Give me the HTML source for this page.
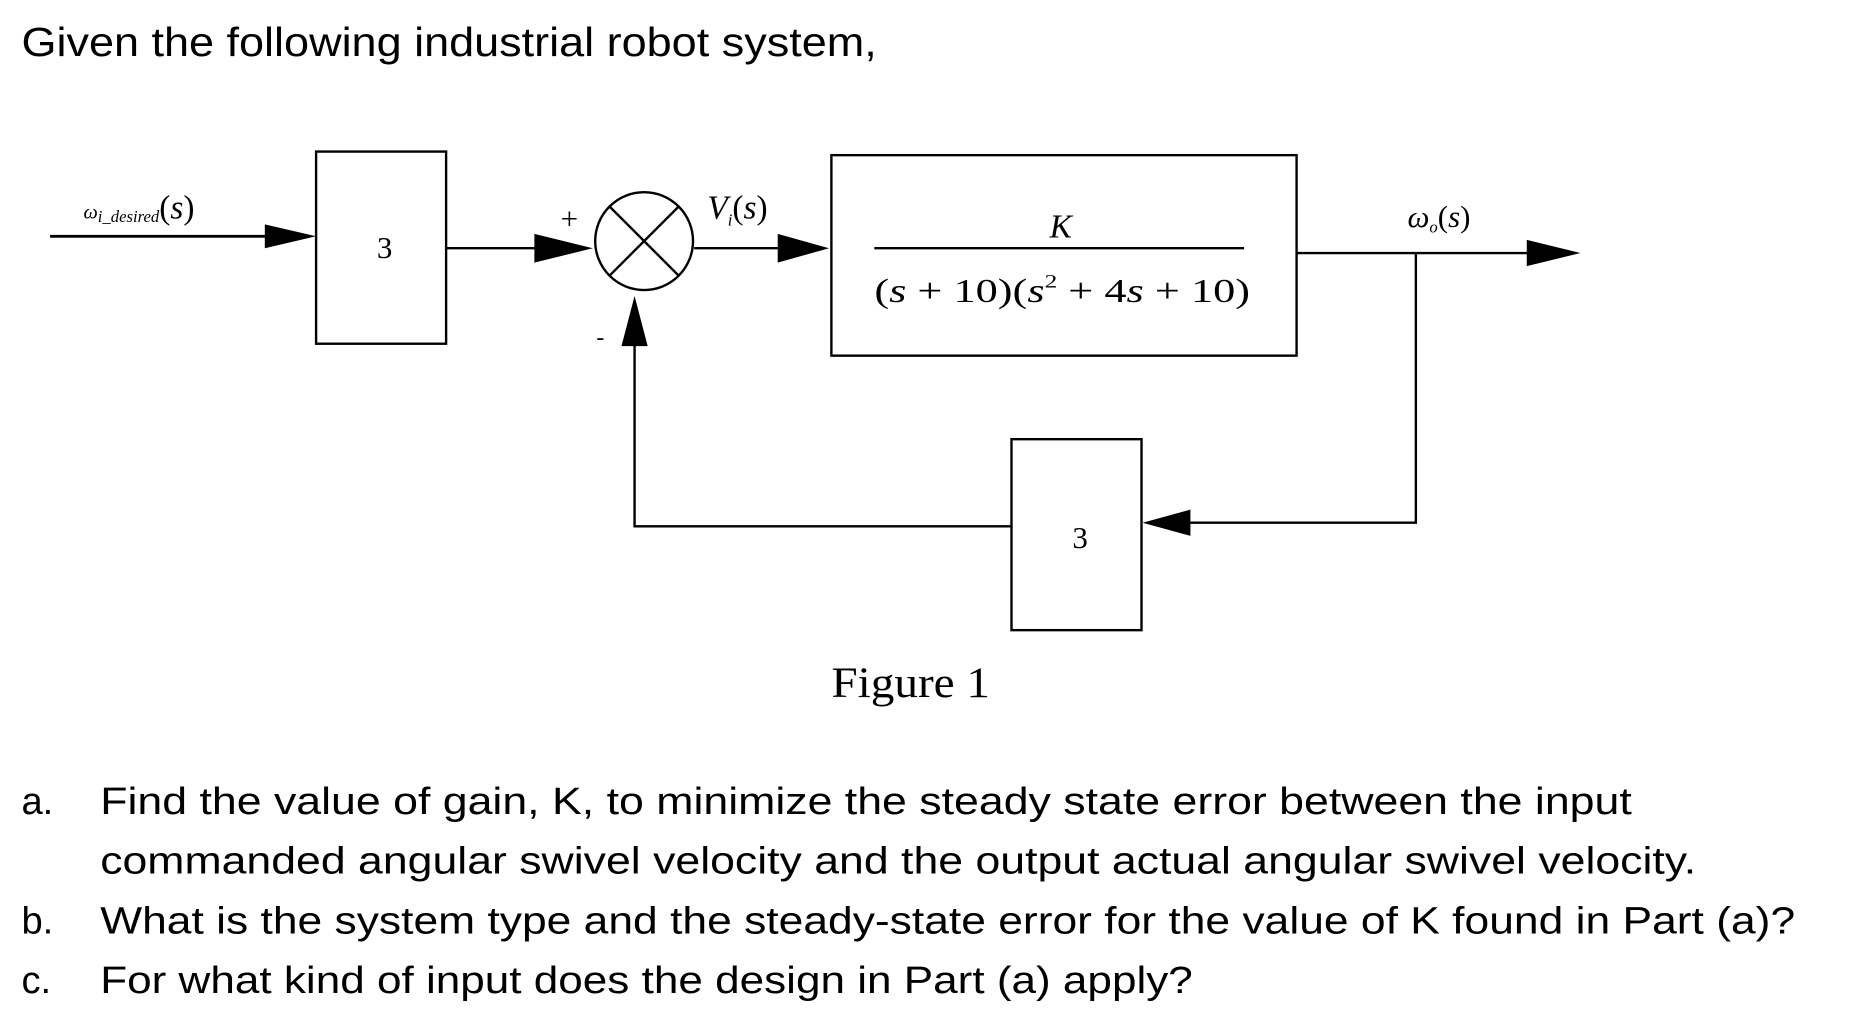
<!DOCTYPE html>
<html><head><meta charset="utf-8"><style>html,body{margin:0;padding:0;background:#fff;}svg{display:block;}</style></head>
<body>
<svg width="1856" height="1024" viewBox="0 0 1556 858" preserveAspectRatio="none" xmlns="http://www.w3.org/2000/svg">
<rect width="1556" height="858" fill="#fff"/>
<g font-family="Liberation Sans, sans-serif" fill="#000">
<text x="18" y="47" font-size="34" textLength="717" lengthAdjust="spacingAndGlyphs">Given the following industrial robot system,</text>
</g>
<g stroke="#000" fill="none" stroke-width="2">
<line x1="42" y1="198" x2="225" y2="198" stroke-width="2.5"/>
<rect x="265" y="127" width="109" height="161"/>
<line x1="374" y1="208" x2="450" y2="208"/>
<ellipse cx="540" cy="202" rx="41" ry="41"/>
<line x1="511" y1="173" x2="569" y2="231"/>
<line x1="569" y1="173" x2="511" y2="231"/>
<line x1="582" y1="208" x2="655" y2="208"/>
<rect x="697" y="130" width="390" height="168"/>
<line x1="733" y1="208" x2="1043" y2="208"/>
<line x1="1087" y1="212" x2="1282" y2="212"/>
<polyline points="1187,212 1187,438 995,438"/>
<rect x="848" y="368" width="109" height="160"/>
<polyline points="848,441 532,441 532,285"/>
</g>
<g fill="#000">
<polygon points="222,188 265,198 222,208"/>
<polygon points="448,196 497,208 448,220"/>
<polygon points="652,196 695,208 652,220"/>
<polygon points="1280,201 1325,212 1280,223"/>
<polygon points="998,427 958,438 998,449"/>
<polygon points="521,290 532,248 543,290"/>
</g>
<g font-family="Liberation Serif, serif" fill="#000">
<text x="70" y="183" font-size="17" font-style="italic">ω<tspan font-size="14" dy="3">i_desired</tspan><tspan dy="-3" font-size="28" font-style="normal">(</tspan><tspan font-size="28">s</tspan><tspan font-size="28" font-style="normal">)</tspan></text>
<text x="316" y="216" font-size="26">3</text>
<text x="470" y="192" font-size="26">+</text>
<text x="500" y="289" font-size="20">-</text>
<text x="593" y="183" font-size="28" font-style="italic">V<tspan font-size="14" dy="6">i</tspan><tspan dy="-6" font-style="normal">(</tspan>s<tspan font-style="normal">)</tspan></text>
<text x="880" y="199" font-size="28" font-style="italic">K</text>
<text x="733" y="253" font-size="28" textLength="315" lengthAdjust="spacingAndGlyphs">(<tspan font-style="italic">s</tspan> + 10)(<tspan font-style="italic">s</tspan><tspan font-size="16" dy="-12">2</tspan><tspan dy="12"> + 4</tspan><tspan font-style="italic">s</tspan> + 10)</text>
<text x="1180" y="190" font-size="26" font-style="italic">ω<tspan font-size="14" dy="5">o</tspan><tspan dy="-5" font-style="normal">(</tspan>s<tspan font-style="normal">)</tspan></text>
<text x="899" y="459" font-size="26">3</text>
<text x="697" y="584" font-size="36" textLength="133" lengthAdjust="spacingAndGlyphs">Figure 1</text>
</g>
<g font-family="Liberation Sans, sans-serif" fill="#000" font-size="32">
<text x="18" y="682">a.</text>
<text x="84" y="682" textLength="1284" lengthAdjust="spacingAndGlyphs">Find the value of gain, K, to minimize the steady state error between the input</text>
<text x="84" y="732" textLength="1338" lengthAdjust="spacingAndGlyphs">commanded angular swivel velocity and the output actual angular swivel velocity.</text>
<text x="18" y="782">b.</text>
<text x="84" y="782" textLength="1421" lengthAdjust="spacingAndGlyphs">What is the system type and the steady-state error for the value of K found in Part (a)?</text>
<text x="18" y="832">c.</text>
<text x="84" y="832" textLength="916" lengthAdjust="spacingAndGlyphs">For what kind of input does the design in Part (a) apply?</text>
</g>
</svg>
</body></html>
